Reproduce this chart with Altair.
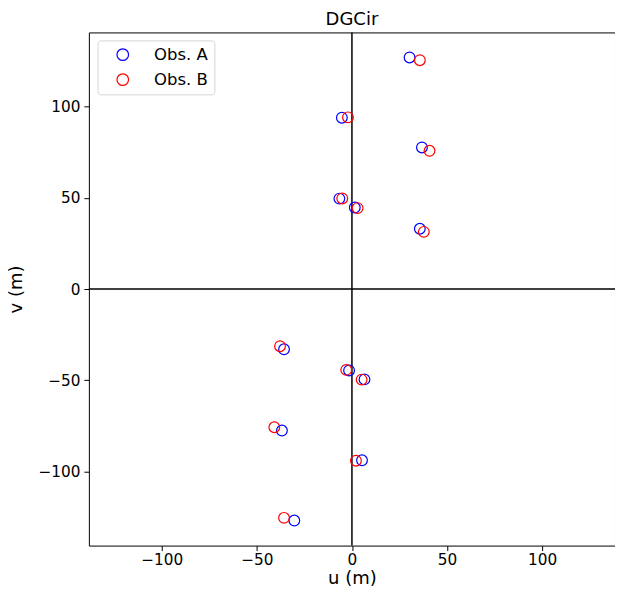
import altair as alt
import pandas as pd

# Observation A (blue)
u_a = [30.3, -5.3, 36.8, -6.6, 1.5, 35.7, -35.7, -1.5, 6.6, -36.8, 5.3, -30.3]
v_a = [126.8, 93.8, 77.5, 49.5, 44.6, 33.0, -33.0, -44.6, -49.5, -77.5, -93.8, -126.8]
# Observation B (red)
u_b = [35.7, -2.1, 40.8, -5.1, 3.0, 37.8, -37.8, -3.0, 5.1, -40.8, 2.1, -35.7]
v_b = [125.3, 94.0, 75.7, 49.6, 44.3, 31.3, -31.3, -44.3, -49.6, -75.7, -94.0, -125.3]

series = ["Obs. A", "Obs. B"]
colors = ["blue", "red"]
ticks = [-100, -50, 0, 50, 100]

df = pd.DataFrame({
    "u": u_a + u_b,
    "v": v_a + v_b,
    "obs": [series[0]] * len(u_a) + [series[1]] * len(u_b),
})

FONT = "DejaVu Sans"

xscale = alt.Scale(domain=[-138.3, 138.3], nice=False, zero=False)
yscale = alt.Scale(domain=[-140.5, 140.5], nice=False, zero=False)

axis_common = dict(
    values=ticks, grid=False, domain=False, tickColor="black", tickWidth=1,
    tickSize=5, labelFontSize=15.3, labelColor="black", labelFont=FONT,
    titleFontSize=18, titleFont=FONT, titleFontWeight="normal", titleColor="black",
    labelExpr="replace(datum.label, '-', '\u2212')",
)

zero = pd.DataFrame({"z": [0]})
vline = alt.Chart(zero).mark_rule(color="black", strokeWidth=1.5).encode(
    x=alt.X("z:Q", scale=xscale))
hline = alt.Chart(zero).mark_rule(color="black", strokeWidth=1.5).encode(
    y=alt.Y("z:Q", scale=yscale))

points = alt.Chart(df).mark_point(shape="circle", filled=False, size=115,
                                   strokeWidth=1.2, opacity=1).encode(
    x=alt.X("u:Q", scale=xscale, title="u (m)",
            axis=alt.Axis(labelPadding=2, titleBaseline="alphabetic", titleY=37.5,
                          **axis_common)),
    y=alt.Y("v:Q", scale=yscale, title="v (m)",
            axis=alt.Axis(labelPadding=4, titleBaseline="alphabetic", titleX=-67,
                          **axis_common)),
    color=alt.Color("obs:N", scale=alt.Scale(domain=series, range=colors),
                    legend=alt.Legend(
                        title=None, orient="none", legendX=8.7, legendY=8,
                        labelFontSize=16.5, labelFont=FONT, labelColor="black",
                        symbolSize=135, symbolStrokeWidth=1.2, symbolType="circle",
                        padding=6, symbolOffset=11, labelOffset=23, rowPadding=8,
                        fillColor="white", strokeColor="#d5d5d5", cornerRadius=3,
                    )),
)

chart = alt.layer(vline, hline, points).properties(
    width=527, height=514,
    title=alt.TitleParams("DGCir", fontSize=18, font=FONT, fontWeight="normal",
                          color="black", offset=3),
    autosize=alt.AutoSizeParams(type="none"),
    padding={"left": 81, "top": 24, "right": 0, "bottom": 40},
).configure_view(stroke="black", strokeWidth=1)

chart.save("out.html", embed_options={"renderer": "svg", "actions": False})
